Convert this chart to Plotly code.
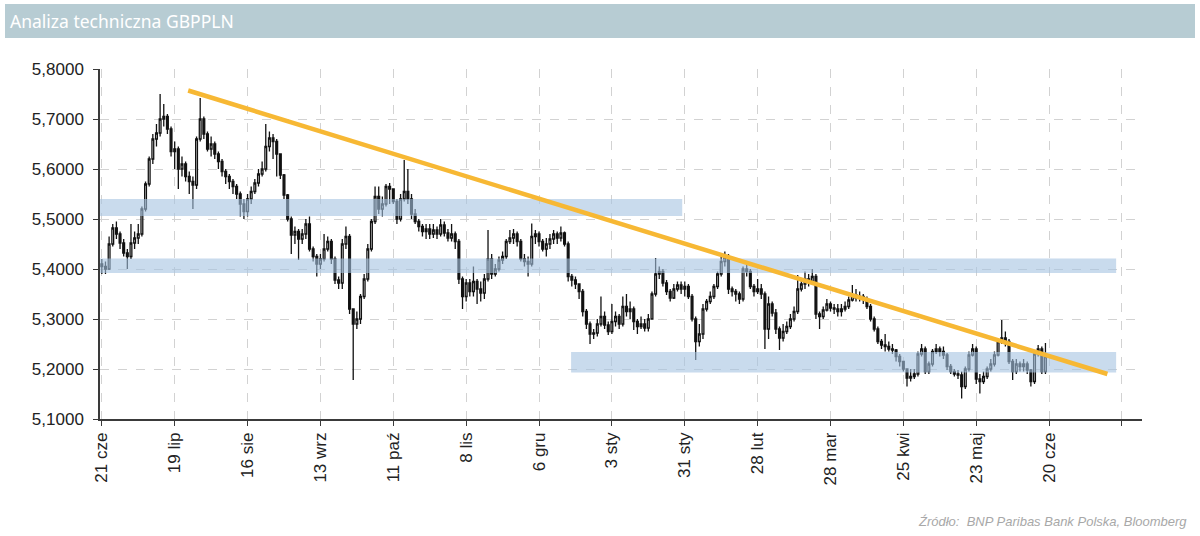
import plotly.graph_objects as go

# ---- data ----
tick_labels = ["21 cze", "19 lip", "16 sie", "13 wrz", "11 paź", "8 lis", "6 gru",
               "3 sty", "31 sty", "28 lut", "28 mar", "25 kwi", "23 maj", "20 cze", ""]
tick_days = [0, 20, 40, 60, 80, 100, 120, 140, 160, 180, 200, 220, 240, 260, 280]

close = [
    5.405, 5.400, 5.450, 5.482, 5.470, 5.452, 5.432, 5.425, 5.452, 5.462,
    5.470, 5.520, 5.570, 5.620, 5.660, 5.672, 5.700, 5.705, 5.680, 5.635,
    5.640, 5.600, 5.610, 5.585, 5.575, 5.568, 5.660, 5.700, 5.670, 5.640,
    5.650, 5.630, 5.615, 5.595, 5.585, 5.575, 5.565, 5.550, 5.530, 5.515,
    5.540, 5.555, 5.572, 5.590, 5.600, 5.645, 5.662, 5.655, 5.630, 5.588,
    5.548, 5.500, 5.468, 5.475, 5.460, 5.470, 5.490, 5.440, 5.425, 5.410,
    5.420, 5.440, 5.455, 5.420, 5.378, 5.372, 5.450, 5.465, 5.320, 5.290,
    5.300, 5.345, 5.380, 5.440, 5.495, 5.545, 5.520, 5.530, 5.565, 5.560,
    5.535, 5.500, 5.540, 5.555, 5.540, 5.510, 5.495, 5.485, 5.475, 5.480,
    5.470, 5.478, 5.470, 5.488, 5.472, 5.462, 5.470, 5.455, 5.380, 5.345,
    5.372, 5.355, 5.375, 5.360, 5.352, 5.380, 5.420, 5.390, 5.400, 5.418,
    5.425, 5.455, 5.462, 5.470, 5.455, 5.420, 5.415, 5.410, 5.465, 5.470,
    5.455, 5.440, 5.450, 5.460, 5.470, 5.462, 5.472, 5.450, 5.385, 5.378,
    5.370, 5.355, 5.315, 5.290, 5.270, 5.272, 5.290, 5.305, 5.288, 5.275,
    5.295, 5.305, 5.290, 5.325, 5.315, 5.320, 5.295, 5.285, 5.290, 5.282,
    5.300, 5.350, 5.390, 5.395, 5.372, 5.355, 5.342, 5.360, 5.368, 5.360,
    5.365, 5.345, 5.300, 5.255, 5.270, 5.320, 5.335, 5.345, 5.365, 5.390,
    5.415, 5.425, 5.360, 5.355, 5.350, 5.340, 5.400, 5.395, 5.365, 5.355,
    5.360, 5.350, 5.280, 5.330, 5.312, 5.280, 5.262, 5.275, 5.285, 5.300,
    5.315, 5.360, 5.370, 5.380, 5.375, 5.385, 5.310, 5.305, 5.318, 5.330,
    5.322, 5.320, 5.315, 5.320, 5.325, 5.338, 5.348, 5.342, 5.345, 5.340,
    5.325, 5.300, 5.280, 5.255, 5.248, 5.245, 5.240, 5.238, 5.225, 5.215,
    5.200, 5.182, 5.185, 5.190, 5.230, 5.240, 5.195, 5.210, 5.235, 5.240,
    5.235, 5.228, 5.205, 5.195, 5.190, 5.188, 5.165, 5.200, 5.228, 5.240,
    5.180, 5.175, 5.185, 5.200, 5.210, 5.228, 5.255, 5.262, 5.255, 5.215,
    5.195, 5.210, 5.205, 5.210, 5.198, 5.175, 5.230, 5.240, 5.195, 5.225,
]

high = [
    5.420, 5.415, 5.465, 5.490, 5.495, 5.475, 5.460, 5.440, 5.490, 5.475,
    5.490, 5.525, 5.575, 5.625, 5.670, 5.690, 5.750, 5.730, 5.710, 5.685,
    5.655, 5.645, 5.625, 5.615, 5.595, 5.585, 5.665, 5.742, 5.705, 5.675,
    5.665, 5.655, 5.635, 5.620, 5.600, 5.590, 5.580, 5.570, 5.555, 5.540,
    5.550, 5.565, 5.580, 5.600, 5.615, 5.690, 5.675, 5.670, 5.660, 5.630,
    5.590, 5.550, 5.505, 5.485, 5.480, 5.480, 5.500, 5.505, 5.445, 5.430,
    5.430, 5.470, 5.465, 5.460, 5.425, 5.385, 5.460, 5.485, 5.470, 5.320,
    5.315, 5.350, 5.390, 5.450, 5.500, 5.565, 5.565, 5.545, 5.570, 5.572,
    5.560, 5.540, 5.550, 5.618, 5.600, 5.550, 5.520, 5.500, 5.490, 5.490,
    5.490, 5.490, 5.485, 5.500, 5.495, 5.480, 5.490, 5.475, 5.460, 5.385,
    5.380, 5.380, 5.405, 5.380, 5.375, 5.390, 5.478, 5.430, 5.410, 5.425,
    5.435, 5.460, 5.478, 5.480, 5.475, 5.460, 5.430, 5.425, 5.491, 5.478,
    5.475, 5.460, 5.462, 5.470, 5.478, 5.475, 5.485, 5.475, 5.455, 5.390,
    5.385, 5.370, 5.360, 5.320, 5.295, 5.280, 5.300, 5.345, 5.315, 5.295,
    5.330, 5.315, 5.310, 5.345, 5.350, 5.335, 5.325, 5.300, 5.305, 5.300,
    5.310, 5.355, 5.422, 5.405, 5.400, 5.378, 5.360, 5.370, 5.375, 5.375,
    5.375, 5.370, 5.350, 5.305, 5.290, 5.330, 5.340, 5.355, 5.370, 5.395,
    5.425, 5.435, 5.430, 5.365, 5.360, 5.355, 5.405, 5.410, 5.400, 5.370,
    5.380, 5.370, 5.355, 5.345, 5.335, 5.320, 5.285, 5.290, 5.295, 5.310,
    5.325, 5.388, 5.380, 5.395, 5.390, 5.400, 5.390, 5.315, 5.325, 5.340,
    5.335, 5.330, 5.330, 5.330, 5.335, 5.345, 5.368, 5.360, 5.355, 5.350,
    5.345, 5.330, 5.305, 5.285, 5.260, 5.270, 5.255, 5.250, 5.240, 5.230,
    5.215, 5.200, 5.200, 5.200, 5.235, 5.250, 5.245, 5.215, 5.240, 5.250,
    5.245, 5.245, 5.232, 5.210, 5.200, 5.198, 5.195, 5.205, 5.235, 5.250,
    5.245, 5.190, 5.195, 5.205, 5.220, 5.235, 5.260, 5.298, 5.275, 5.260,
    5.220, 5.220, 5.215, 5.220, 5.215, 5.200, 5.235, 5.248, 5.245, 5.252,
]

low = [
    5.390, 5.390, 5.398, 5.445, 5.460, 5.440, 5.425, 5.400, 5.420, 5.440,
    5.450, 5.465, 5.515, 5.565, 5.610, 5.645, 5.665, 5.685, 5.670, 5.625,
    5.600, 5.560, 5.585, 5.575, 5.550, 5.520, 5.560, 5.655, 5.660, 5.635,
    5.625, 5.620, 5.600, 5.585, 5.570, 5.560, 5.550, 5.540, 5.505, 5.500,
    5.505, 5.530, 5.550, 5.565, 5.585, 5.595, 5.635, 5.620, 5.585, 5.580,
    5.540, 5.495, 5.430, 5.450, 5.418, 5.450, 5.460, 5.435, 5.415, 5.385,
    5.400, 5.415, 5.435, 5.410, 5.370, 5.360, 5.360, 5.440, 5.310, 5.178,
    5.280, 5.290, 5.340, 5.375, 5.435, 5.490, 5.510, 5.505, 5.525, 5.530,
    5.530, 5.490, 5.495, 5.535, 5.530, 5.500, 5.490, 5.475, 5.465, 5.460,
    5.460, 5.462, 5.460, 5.465, 5.465, 5.455, 5.455, 5.440, 5.370, 5.320,
    5.335, 5.345, 5.345, 5.330, 5.335, 5.340, 5.375, 5.380, 5.385, 5.395,
    5.410, 5.420, 5.450, 5.450, 5.445, 5.415, 5.405, 5.385, 5.405, 5.450,
    5.445, 5.435, 5.425, 5.440, 5.450, 5.450, 5.455, 5.445, 5.375, 5.365,
    5.360, 5.340, 5.305, 5.280, 5.250, 5.260, 5.265, 5.285, 5.280, 5.268,
    5.270, 5.285, 5.280, 5.285, 5.305, 5.300, 5.278, 5.270, 5.280, 5.275,
    5.275, 5.300, 5.345, 5.380, 5.365, 5.348, 5.335, 5.340, 5.355, 5.350,
    5.345, 5.340, 5.295, 5.218, 5.245, 5.260, 5.315, 5.330, 5.340, 5.360,
    5.385, 5.405, 5.350, 5.345, 5.335, 5.330, 5.335, 5.385, 5.360, 5.345,
    5.350, 5.340, 5.240, 5.260, 5.305, 5.270, 5.238, 5.255, 5.270, 5.280,
    5.295, 5.310, 5.355, 5.360, 5.365, 5.370, 5.300, 5.280, 5.300, 5.315,
    5.315, 5.310, 5.305, 5.305, 5.315, 5.320, 5.335, 5.335, 5.335, 5.330,
    5.320, 5.295, 5.275, 5.250, 5.240, 5.235, 5.235, 5.230, 5.215, 5.205,
    5.195, 5.165, 5.175, 5.180, 5.185, 5.225, 5.190, 5.190, 5.205, 5.230,
    5.225, 5.220, 5.198, 5.190, 5.185, 5.180, 5.141, 5.160, 5.195, 5.225,
    5.170, 5.151, 5.170, 5.180, 5.195, 5.205, 5.225, 5.250, 5.245, 5.210,
    5.178, 5.190, 5.195, 5.195, 5.190, 5.165, 5.170, 5.225, 5.190, 5.190,
]

first_open = 5.410

# support / resistance zones: (start day, end day, lower, upper)
zone_start = [-0.5, -0.5, 128.8]
zone_end = [159.3, 278.4, 278.4]
zone_low = [5.506, 5.392, 5.193]
zone_high = [5.540, 5.421, 5.234]

# trend line endpoints (day, level)
trend_days = [23.7, 276.0]
trend_levels = [5.757, 5.190]

# ---- build ----
days = list(range(len(close)))
opens = [first_open] + close[:-1]
highs = [max(h, o, c) for h, o, c in zip(high, opens, close)]
lows = [min(l, o, c) for l, o, c in zip(low, opens, close)]

fig = go.Figure()
fig.add_trace(go.Candlestick(
    x=days, open=opens, high=highs, low=lows, close=close,
    increasing=dict(line=dict(color="#111111", width=1.3), fillcolor="#ffffff"),
    decreasing=dict(line=dict(color="#111111", width=1.3), fillcolor="#111111"),
    whiskerwidth=0, showlegend=False, hoverinfo="skip",
))

for x0, x1, y0, y1 in zip(zone_start, zone_end, zone_low, zone_high):
    fig.add_trace(go.Scatter(
        x=[x0, x1, x1, x0, x0], y=[y0, y0, y1, y1, y0],
        mode="lines", fill="toself", fillcolor="rgba(165,195,225,0.6)",
        line=dict(width=0), showlegend=False, hoverinfo="skip",
    ))

fig.add_trace(go.Scatter(
    x=trend_days, y=trend_levels, mode="lines",
    line=dict(color="rgb(247,184,52)", width=4.5),
    showlegend=False, hoverinfo="skip",
))

W, H = 1200, 536
L, R, T, B = 100, 58, 69, 117
pw, ph = W - L - R, H - T - B


def px_x(p):
    return (p - L) / pw


def px_y(p):
    return (H - B - p) / ph


fig.add_shape(type="rect", xref="paper", yref="paper",
              x0=px_x(5), x1=px_x(1195), y0=px_y(38), y1=px_y(4),
              fillcolor="rgb(183,204,211)", line=dict(width=0), layer="below")
fig.add_annotation(text="Analiza techniczna GBPPLN", xref="paper", yref="paper",
                   x=px_x(8), y=px_y(21), xanchor="left", yanchor="middle",
                   showarrow=False, font=dict(family="Noto Sans", size=17.5, color="#ffffff"))
fig.add_annotation(text="<i>Źródło:  BNP Paribas Bank Polska, Bloomberg</i>",
                   xref="paper", yref="paper", x=px_x(1189), y=px_y(521),
                   xanchor="right", yanchor="middle", showarrow=False,
                   font=dict(family="Liberation Sans", size=13, color="#a8a8a8"))

axis_font = dict(family="Liberation Sans", size=17, color="#222222")
fig.update_layout(
    width=W, height=H,
    margin=dict(l=L, r=R, t=T, b=B, pad=0),
    paper_bgcolor="white", plot_bgcolor="white",
    separators=", ",
    showlegend=False,
    xaxis=dict(
        range=[-0.5, 285.5], tickmode="array", tickvals=tick_days, ticktext=tick_labels,
        tickangle=-90, tickfont=axis_font, showline=True, linecolor="#3a3a3a", linewidth=1.5,
        ticks="outside", ticklen=5, tickcolor="#3a3a3a", tickwidth=1.2,
        showgrid=True, gridcolor="#d2d2d2", griddash="dash", gridwidth=1,
        zeroline=False, rangeslider=dict(visible=False),
    ),
    yaxis=dict(
        range=[5.1, 5.8], dtick=0.1, tick0=5.1, tickformat=".4f", tickfont=axis_font,
        showline=True, linecolor="#3a3a3a", linewidth=1.5,
        ticks="outside", ticklen=5, tickcolor="#3a3a3a", tickwidth=1.2,
        ticklabelstandoff=6,
        showgrid=True, gridcolor="#d2d2d2", griddash="dash", gridwidth=1,
        zeroline=False,
    ),
)

fig.write_html("out.html")
